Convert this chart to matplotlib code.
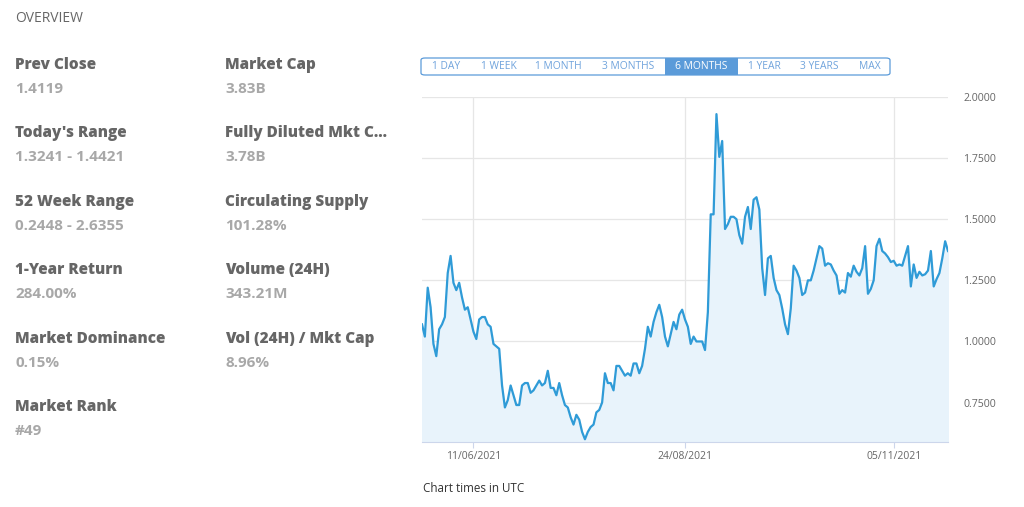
#!/usr/bin/env python3

import matplotlib
matplotlib.use("Agg")
import matplotlib.pyplot as plt
import matplotlib.dates as mdates
from matplotlib.patches import FancyBboxPatch, Rectangle
import pandas as pd

# daily closing prices, 24/05/2021 .. 24/11/2021
prices = [
    1.07, 1.02, 1.22, 1.14, 0.99, 0.94, 1.05, 1.07, 1.10, 1.28,
    1.35, 1.24, 1.21, 1.24, 1.18, 1.13, 1.14, 1.09, 1.04, 1.01,
    1.09, 1.10, 1.10, 1.07, 1.06, 0.99, 0.98, 0.97, 0.82, 0.73,
    0.76, 0.82, 0.78, 0.74, 0.74, 0.82, 0.83, 0.83, 0.79, 0.80,
    0.82, 0.84, 0.82, 0.83, 0.88, 0.81, 0.81, 0.78,
    0.83, 0.78, 0.74, 0.73, 0.69, 0.66, 0.70, 0.68, 0.63, 0.60,
    0.63, 0.65, 0.66, 0.71, 0.72, 0.75, 0.87, 0.83, 0.83, 0.80,
    0.90, 0.90, 0.88, 0.86, 0.87, 0.86, 0.91, 0.91, 0.87, 0.90,
    0.97, 1.06, 1.02, 1.08, 1.12, 1.15, 1.10, 1.02, 0.98, 1.03,
    1.08, 1.05, 1.11, 1.13, 1.09, 1.06, 0.99, 1.02,
    1.00, 1.00, 1.00, 0.965, 1.12, 1.52, 1.52, 1.93, 1.755, 1.82,
    1.46, 1.48, 1.51, 1.51, 1.50, 1.435, 1.40, 1.51, 1.55, 1.46,
    1.58, 1.59, 1.54, 1.30, 1.19, 1.34, 1.35, 1.26, 1.21, 1.19,
    1.135, 1.07, 1.03, 1.135, 1.31, 1.29, 1.26, 1.19, 1.20, 1.25,
    1.25, 1.29, 1.34, 1.39, 1.38, 1.31, 1.32,
    1.315, 1.29, 1.27, 1.195, 1.21, 1.20, 1.28, 1.265, 1.31, 1.285,
    1.27, 1.30, 1.39, 1.195, 1.215, 1.25, 1.39, 1.42, 1.37, 1.36,
    1.345, 1.325, 1.33, 1.31, 1.315, 1.31, 1.35, 1.39, 1.225, 1.315,
    1.26, 1.285, 1.27, 1.275, 1.29, 1.37, 1.225, 1.255, 1.28, 1.34,
    1.41, 1.37,
]
dates = pd.date_range("2021-05-24", periods=len(prices), freq="D")

x_ticks = ["2021-06-11", "2021-08-24", "2021-11-05"]
y_ticks = [0.75, 1.0, 1.25, 1.5, 1.75, 2.0]

buttons = ["1 DAY", "1 WEEK", "1 MONTH", "3 MONTHS", "6 MONTHS", "1 YEAR", "3 YEARS", "MAX"]
selected = "6 MONTHS"

stats_left = [
    ("Prev Close", "1.4119"),
    ("Today's Range", "1.3241 - 1.4421"),
    ("52 Week Range", "0.2448 - 2.6355"),
    ("1-Year Return", "284.00%"),
    ("Market Dominance", "0.15%"),
    ("Market Rank", "#49"),
]
stats_right = [
    ("Market Cap", "3.83B"),
    ("Fully Diluted Mkt C...", "3.78B"),
    ("Circulating Supply", "101.28%"),
    ("Volume (24H)", "343.21M"),
    ("Vol (24H) / Mkt Cap", "8.96%"),
]

W, H = 1024, 507
plt.rcParams["font.family"] = ["Open Sans", "DejaVu Sans"]


def fx(px):
    return px / W


def fy(py):
    return 1 - py / H


fig = plt.figure(figsize=(W / 100, H / 100), dpi=100)

# --- overview panel ---
fig.text(fx(15), fy(18), "OVERVIEW", fontsize=10, color="#666666", va="center")
row_y = [65, 133, 202, 270, 339, 407]
for col_x, items in ((15, stats_left), (225, stats_right)):
    for (label, value), ry in zip(items, row_y):
        fig.text(fx(col_x), fy(ry), label, fontsize=11, fontweight="heavy",
                 color="#666666", va="center")
        fig.text(fx(col_x), fy(ry + 24), value, fontsize=11, fontweight="bold",
                 color="#a8a8a8", va="center")

# --- range buttons ---
bx0, bx1, by0, by1 = 421, 890, 58, 75
fig.patches.append(FancyBboxPatch((fx(bx0), fy(by1)), fx(bx1 - bx0), (by1 - by0) / H,
                                  boxstyle="round,pad=0,rounding_size=0.004",
                                  transform=fig.transFigure, facecolor="white",
                                  edgecolor="#5b9bd9", linewidth=0.9))
btn_centers = [446, 498.5, 558.5, 628.5, 701.5, 764, 819, 869.5]
fig.patches.append(Rectangle((fx(665), fy(by1)), fx(738 - 665), (by1 - by0) / H,
                             transform=fig.transFigure, facecolor="#5b9bd9",
                             edgecolor="none"))
for name, cx in zip(buttons, btn_centers):
    fig.text(fx(cx), fy(66.5), name, fontsize=7.4, ha="center", va="center",
             color="white" if name == selected else "#6fa3dc")

# --- price chart ---
ax = fig.add_axes([fx(422), fy(441.7), fx(948 - 422), (441.7 - 97) / H])
ax.plot(dates, prices, color="#2f9bd7", linewidth=1.6, zorder=3)
ax.fill_between(dates, prices, 0.5, color="#e8f3fb", zorder=2)

ax.set_xlim(dates[0], dates[-1])
ax.set_ylim(0.59, 2.0)
ax.set_xticks(pd.to_datetime(x_ticks))
ax.xaxis.set_major_formatter(mdates.DateFormatter("%d/%m/%Y"))
ax.set_yticks(y_ticks)
ax.yaxis.set_major_formatter(plt.FormatStrFormatter("%.4f"))
ax.yaxis.tick_right()

ax.grid(True, color="#e6e6e6", linewidth=0.9, zorder=1)
for s in ("top", "left", "right"):
    ax.spines[s].set_visible(False)
ax.spines["bottom"].set_color("#ccd6eb")
ax.spines["bottom"].set_zorder(4)

ax.tick_params(axis="y", length=0, pad=11, labelsize=7.6, labelcolor="#666666")
ax.tick_params(axis="x", length=4, color="#ccd6eb", pad=3, labelsize=7.5,
               labelcolor="#666666")

fig.text(fx(423), fy(489), "Chart times in UTC", fontsize=8.4, color="#333333",
         va="center")

fig.savefig("out.png", dpi=100)
